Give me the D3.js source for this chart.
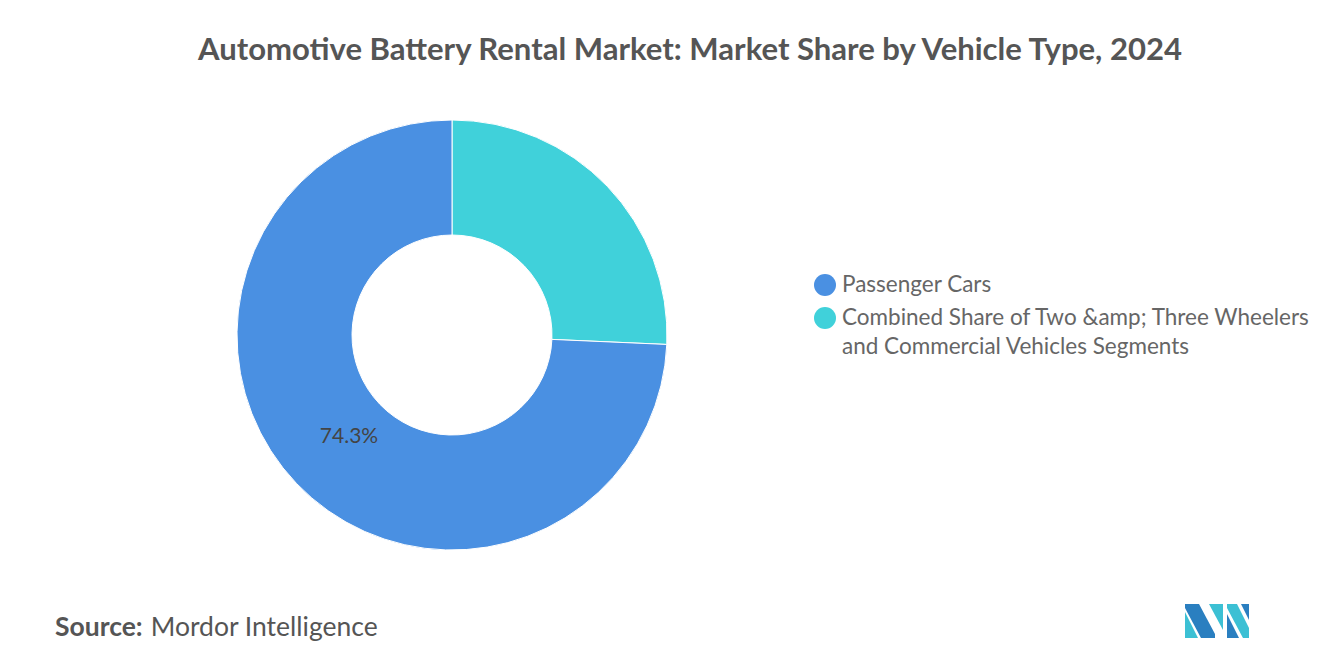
<!DOCTYPE html>
<html><head><meta charset="utf-8">
<script src="https://cdn.jsdelivr.net/npm/d3@7"></script>
<style>body{margin:0;background:#fff;font-family:Lato,"Open Sans",sans-serif;}</style>
</head><body><svg id="c" width="1320" height="665"></svg>
<script>
const categories = ["Combined Share of Two &amp; Three Wheelers and Commercial Vehicles Segments", "Passenger Cars"];
const values = [25.7, 74.3];
const colors = ["#40D1DA", "#4A90E2"];
const legendOrder = [1, 0];
const legendLines = [["Passenger Cars"], ["Combined Share of Two &amp; Three Wheelers", "and Commercial Vehicles Segments"]];

const svg = d3.select("#c");
svg.append("text").attr("x", 690).attr("y", 60).attr("text-anchor", "middle")
  .attr("font-size", 31).attr("font-weight", 700).attr("fill", "#555")
  .attr("textLength", 984).attr("lengthAdjust", "spacingAndGlyphs")
  .text("Automotive Battery Rental Market: Market Share by Vehicle Type, 2024");

const cx = 452, cy = 335;
const pie = d3.pie().sort(null).value(d => d)(values);
const arc = d3.arc().innerRadius(100).outerRadius(215);
const g = svg.append("g").attr("transform", `translate(${cx},${cy})`);
g.selectAll("path").data(pie).join("path").attr("d", arc).attr("fill", (d, i) => colors[i])
  .attr("stroke", "#fff").attr("stroke-width", 1);
g.append("text").attr("x", -103).attr("y", 108).attr("text-anchor", "middle")
  .attr("font-size", 21).attr("fill", "#444").text(values[1].toFixed(1) + "%");

const lg = svg.append("g");
const widths = [[153], [476, 360]];
legendOrder.forEach((idx, k) => {
  const yy = k === 0 ? 285 : 318;
  lg.append("circle").attr("cx", 825).attr("cy", yy).attr("r", 11).attr("fill", colors[idx]);
  legendLines[k].forEach((t, j) => {
    lg.append("text").attr("x", 842).attr("y", yy + 7 + j * 29).attr("font-size", 22.5)
      .attr("fill", "#666").text(t);
  });
});

svg.append("text").attr("x", 55).attr("y", 636).attr("font-size", 26.5).attr("fill", "#555")
  .html('<tspan font-weight="700">Source:</tspan><tspan dx="8">Mordor Intelligence</tspan>');

const lgG = svg.append("g").attr("transform", "translate(1185,604)");
lgG.append("path").attr("d", "M0,0 L14,0 L30,30 L30,34 L16,34 L0,4 Z").attr("fill", "#2A7FC0");
lgG.append("path").attr("d", "M0,8 L13,34 L0,34 Z").attr("fill", "#3CC0D4");
lgG.append("path").attr("d", "M24,0 L38,0 L38,26 Z").attr("fill", "#3CC0D4");
lgG.append("path").attr("d", "M42,0 L52,0 L64,24 L64,34 L58,34 L42,4 Z").attr("fill", "#3CC0D4");
lgG.append("path").attr("d", "M42,10 L54,34 L42,34 Z").attr("fill", "#2A7FC0");
lgG.append("path").attr("d", "M56,0 L64,0 L64,16 Z").attr("fill", "#2A7FC0");
</script></body></html>
